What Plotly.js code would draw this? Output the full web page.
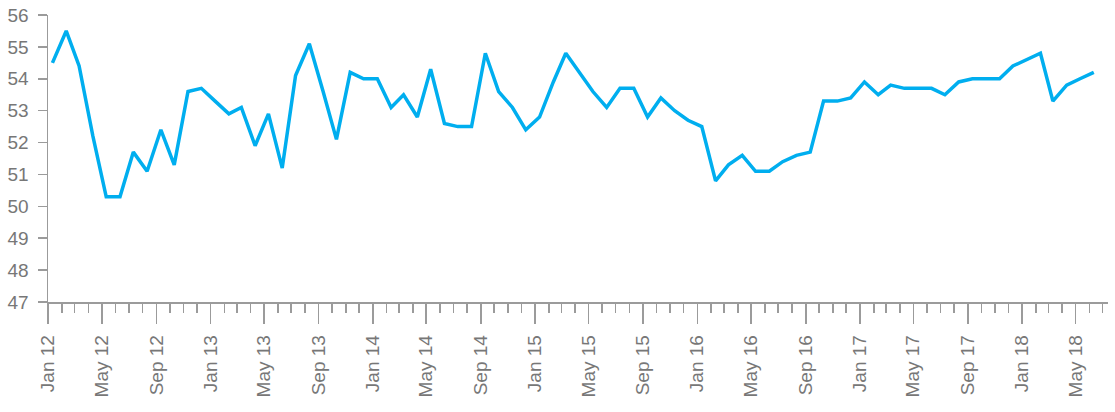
<!DOCTYPE html>
<html>
<head>
<meta charset="utf-8">
<script src="https://cdn.plot.ly/plotly-3.0.1.min.js"></script>
<style>
  html, body { margin: 0; padding: 0; background: #ffffff; }
  #chart { width: 1115px; height: 412px; }
</style>
</head>
<body>
<div id="chart"></div>
<script>
// Monthly index values, Jan 2012 – Jun 2018
const startYear = 2012;
const startMonth = 1;
const values2012 = [54.5, 55.5, 54.4, 52.2, 50.3, 50.3, 51.7, 51.1, 52.4, 51.3, 53.6, 53.7];
const values2013 = [53.3, 52.9, 53.1, 51.9, 52.9, 51.2, 54.1, 55.1, 53.6, 52.1, 54.2, 54.0];
const values2014 = [54.0, 53.1, 53.5, 52.8, 54.3, 52.6, 52.5, 52.5, 54.8, 53.6, 53.1, 52.4];
const values2015 = [52.8, 53.9, 54.8, 54.2, 53.6, 53.1, 53.7, 53.7, 52.8, 53.4, 53.0, 52.7];
const values2016 = [52.5, 50.8, 51.3, 51.6, 51.1, 51.1, 51.4, 51.6, 51.7, 53.3, 53.3, 53.4];
const values2017 = [53.9, 53.5, 53.8, 53.7, 53.7, 53.7, 53.5, 53.9, 54.0, 54.0, 54.0, 54.4];
const values2018 = [54.6, 54.8, 53.3, 53.8, 54.0, 54.2];

const values = [].concat(values2012, values2013, values2014, values2015, values2016, values2017, values2018);

// month dates for each value (observations plotted around the 11th of the month)
const dates = values.map(function (v, i) {
  const m = startMonth - 1 + i;
  const y = startYear + Math.floor(m / 12);
  const mm = (m % 12) + 1;
  return y + '-' + (mm < 10 ? '0' + mm : mm) + '-11';
});

const yTicks = [47, 48, 49, 50, 51, 52, 53, 54, 55, 56];
const xRange = ['2012-01-01', '2018-07-13'];

const axisColor = '#9b9b9b';
const textColor = '#777777';
const fontFamily = 'Liberation Sans, Arial, sans-serif';

const trace = {
  x: dates,
  y: values,
  type: 'scatter',
  mode: 'lines',
  line: { color: '#00aeef', width: 3.5 },
  hoverinfo: 'x+y'
};

const layout = {
  width: 1115,
  height: 412,
  margin: { l: 48, r: 7, t: 15, b: 110 },
  paper_bgcolor: '#ffffff',
  plot_bgcolor: '#ffffff',
  showlegend: false,
  font: { family: fontFamily, size: 19, color: textColor },
  xaxis: {
    type: 'date',
    range: xRange,
    tick0: '2012-01-01',
    dtick: 'M4',
    tickformat: '%b %y',
    tickangle: -90,
    ticks: 'outside',
    ticklen: 20,
    tickwidth: 1.5,
    tickcolor: axisColor,
    showline: true,
    linecolor: axisColor,
    linewidth: 1.5,
    showgrid: false,
    zeroline: false,
    ticklabelstandoff: 4,
    tickfont: { family: fontFamily, size: 19, color: textColor },
    minor: { dtick: 'M1', tick0: '2012-01-01', ticks: 'outside', ticklen: 9, tickwidth: 1.5, tickcolor: axisColor, showgrid: false }
  },
  yaxis: {
    range: [47, 56],
    tickvals: yTicks,
    ticktext: yTicks.map(String),
    ticks: 'outside',
    ticklen: 9,
    tickwidth: 1.5,
    tickcolor: axisColor,
    showline: true,
    linecolor: axisColor,
    linewidth: 1.5,
    showgrid: false,
    zeroline: false,
    ticklabelstandoff: 5,
    tickfont: { family: fontFamily, size: 19, color: textColor }
  }
};

Plotly.newPlot('chart', [trace], layout, { displayModeBar: false, staticPlot: true });
</script>
</body>
</html>
